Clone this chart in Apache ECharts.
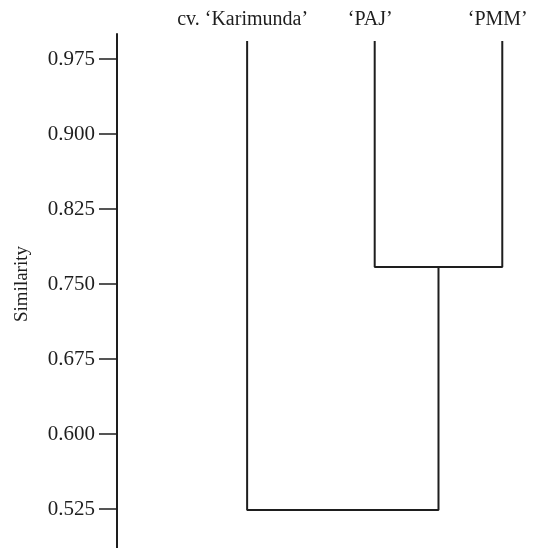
<!DOCTYPE html>
<html>
<head>
<meta charset="utf-8">
<script src="https://cdn.jsdelivr.net/npm/echarts@6/dist/echarts.min.js"></script>
<style>
html,body{margin:0;padding:0;background:#fff;}
#chart{width:538px;height:548px;}
</style>
</head>
<body>
<div id="chart"></div>
<script>
// Leaves (left to right) and their drawn top height
const leafNames = ["cv. \u2018Karimunda\u2019", "\u2018PAJ\u2019", "\u2018PMM\u2019"];
const leafTop = 0.993;
// Merges: node ids (0..2 leaves, 3.. merged clusters) and similarity heights
const mergeLeft = [1, 0];
const mergeRight = [2, 3];
const mergeHeights = [0.767, 0.524];
// Y-axis tick values
const yTicks = [0.525, 0.600, 0.675, 0.750, 0.825, 0.900, 0.975];
const axisTitle = "Similarity";

const nodeX = leafNames.map((_, i) => i);
const nodeH = leafNames.map(() => leafTop);
const segments = [];
mergeLeft.forEach((l, k) => {
  const r = mergeRight[k];
  const h = mergeHeights[k];
  segments.push([[nodeX[l], nodeH[l]], [nodeX[l], h], [nodeX[r], h], [nodeX[r], nodeH[r]]]);
  nodeX.push((nodeX[l] + nodeX[r]) / 2);
  nodeH.push(h);
});

const font = "'Liberation Serif','Times New Roman',serif";
const ink = '#1e1e1e';

const chart = echarts.init(document.getElementById('chart'));
chart.setOption({
  animation: false,
  backgroundColor: '#fff',
  grid: {left: 117, right: 0, top: 34, bottom: 0, containLabel: false},
  xAxis: {
    type: 'value', position: 'top', min: -1.02, max: 2.28,
    axisLine: {show: false, onZero: false}, axisTick: {show: false}, splitLine: {show: false},
    axisLabel: {
      customValues: leafNames.map((_, i) => i),
      formatter: v => leafNames[Math.round(v)] || '',
      fontFamily: font, fontSize: 20, color: ink, margin: 4,
      padding: [0, 9, 0, 0]
    }
  },
  yAxis: {
    type: 'value', min: 0.486, max: 1.0,
    axisLine: {show: true, onZero: false, lineStyle: {color: ink, width: 2}},
    axisTick: {show: true, length: 18, inside: false, customValues: yTicks, lineStyle: {color: ink, width: 1.5}},
    axisLabel: {customValues: yTicks, formatter: v => v.toFixed(3), fontFamily: font, fontSize: 21, color: ink, margin: 22},
    splitLine: {show: false}
  },
  graphic: [{
    type: 'text', x: 22, y: 284, rotation: Math.PI / 2,
    style: {text: axisTitle, font: "19px " + font, fill: ink, align: 'center', verticalAlign: 'middle'}
  }],
  series: segments.map(seg => ({
    type: 'line', data: seg, symbol: 'none', silent: true,
    lineStyle: {color: ink, width: 2}
  }))
});
</script>
</body>
</html>
